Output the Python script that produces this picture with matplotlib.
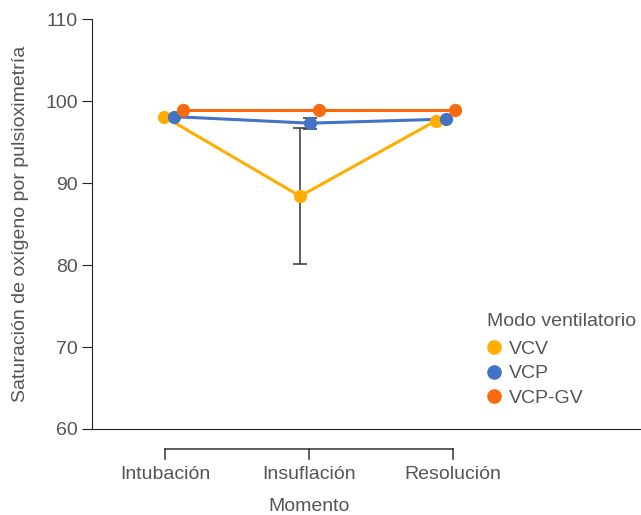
import matplotlib
matplotlib.use("Agg")
import numpy as np
import matplotlib.pyplot as plt
import matplotlib.transforms as mtransforms
from matplotlib.lines import Line2D

# data
momentos = ["Intubación", "Insuflación", "Resolución"]
series = ["VCV", "VCP", "VCP-GV"]
vcv = [98.1, 88.4, 97.6]
vcp = [98.1, 97.3, 97.8]
vcpgv = [98.9, 98.9, 98.9]
vcv_err = [0.0, 8.3, 0.0]
vcp_err = [0.0, 0.65, 0.0]
vcpgv_err = [0.0, 0.0, 0.0]

colors = ["#FFAD00", "#4472C4", "#F96A0E"]
offsets = [-0.068, 0.0, 0.066]
grey = "#555555"

plt.rcParams["font.family"] = ["Liberation Sans", "DejaVu Sans"]
FS = 14

fig = plt.figure(figsize=(6.41, 5.15), dpi=100)
ax = fig.add_axes([0.1435, 0.167, 0.855, 0.796])

x = np.arange(len(momentos))
# markers sit slightly inside the bracket ticks in the original
x_pts = 0.0625 + 0.944 * x
vals = [vcv, vcp, vcpgv]
errs = [vcv_err, vcp_err, vcpgv_err]
for name, v, e, c, off in zip(series, vals, errs, colors, offsets):
    xx = x_pts + off
    ax.plot(xx, v, color=c, lw=2.2, zorder=3)
    e = np.array(e)
    m = e > 0
    if m.any():
        ax.errorbar(xx[m], np.array(v)[m], yerr=e[m], fmt="none", ecolor="#333333",
                    elinewidth=1.1, capsize=5, capthick=1.1, zorder=4)
    ax.plot(xx, v, "o", color=c, ms=8.5, zorder=5, label=name)

ax.set_ylim(60, 110)
ax.set_yticks([60, 70, 80, 90, 100, 110])
ax.set_xlim(-0.507, 3.30)
ax.set_xticks([])

for s in ["top", "right"]:
    ax.spines[s].set_visible(False)
ax.spines["left"].set_color("#222222")
ax.spines["bottom"].set_color("#222222")
ax.tick_params(axis="y", length=7, color="#222222", labelcolor=grey, labelsize=FS, pad=3)

ax.set_ylabel("Saturación de oxígeno por pulsioximetría", fontsize=FS, color=grey, labelpad=12)

# category bracket below the axis
trans = mtransforms.blended_transform_factory(ax.transData, ax.transAxes)
ax.plot([x[0], x[-1]], [-0.049, -0.049], color="#333333", lw=1.1, transform=trans, clip_on=False)
for xi, lab in zip(x, momentos):
    ax.plot([xi, xi], [-0.049, -0.072], color="#333333", lw=1.1, transform=trans, clip_on=False)
    ax.text(xi, -0.11, lab, transform=trans, ha="center", va="center", fontsize=FS, color=grey)
ax.text(x[1], -0.188, "Momento", transform=trans, ha="center", va="center", fontsize=FS, color=grey)

# legend
fig.text(487 / 641, 1 - 321 / 515, "Modo ventilatorio", ha="left", va="center",
         fontsize=FS, color=grey)
handles = [Line2D([], [], marker="o", ls="none", color=c, ms=9.5) for c in colors]
leg = fig.legend(handles, series, loc="upper left", bbox_to_anchor=(0.757, 1 - 340 / 515),
                 frameon=False, fontsize=FS, handletextpad=0.3, handlelength=0.9,
                 labelspacing=0.37, borderaxespad=0, borderpad=0)
for t in leg.get_texts():
    t.set_color(grey)

fig.savefig("out.png", dpi=100)
